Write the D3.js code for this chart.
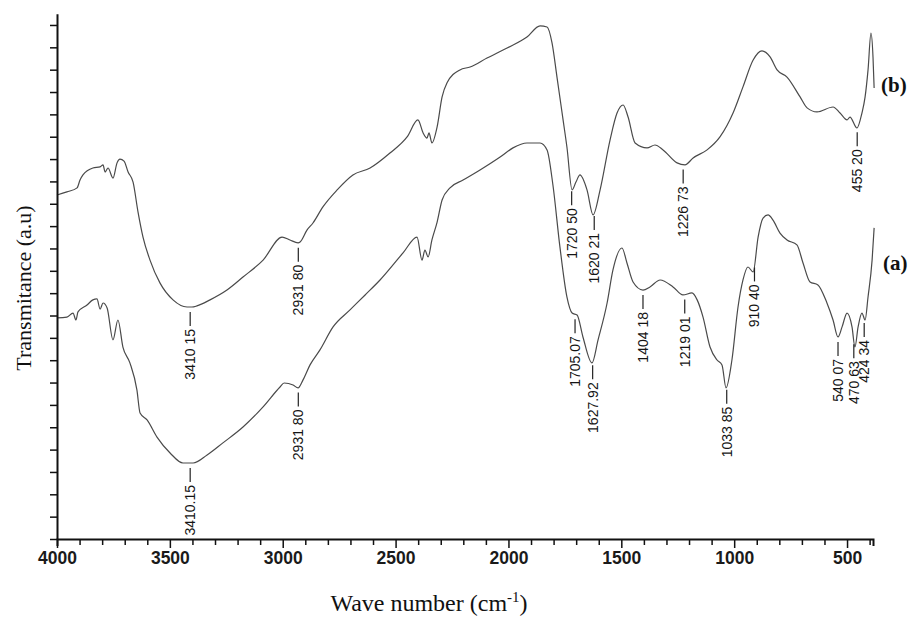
<!DOCTYPE html>
<html>
<head>
<meta charset="utf-8">
<script src="https://cdn.jsdelivr.net/npm/d3@7.9.0/dist/d3.min.js"></script>
<style>
  body { margin: 0; background: #fff; }
  svg { display: block; }
</style>
</head>
<body>
<div id="chart"></div>
<script>
// FTIR spectra: [wave number (cm-1), transmittance (a.u)]
const spectrumB = [
  [4000,15.39],[3956,15.53],[3911,15.71],[3898,16.06],[3885,16.29],[3841,16.60],[3809,16.65],
  [3796,16.74],[3787,16.42],[3774,16.60],[3752,16.15],[3734,16.83],[3721,17.00],[3703,16.91],
  [3685,16.42],[3663,15.97],[3641,14.63],[3619,13.51],[3588,12.48],[3544,11.46],[3486,10.70],
  [3424,10.38],[3402,10.38],[3380,10.43],[3322,10.70],[3247,11.14],[3176,11.72],[3087,12.48],
  [3003,13.51],[2968,13.38],[2932,13.25],[2923,13.29],[2892,13.83],[2866,14.14],[2822,14.86],
  [2759,15.62],[2689,16.29],[2613,16.60],[2525,17.27],[2449,17.99],[2401,18.75],[2378,18.17],
  [2361,17.94],[2352,18.17],[2339,17.72],[2316,18.44],[2294,19.78],[2272,20.41],[2215,20.99],
  [2170,21.12],[2095,21.52],[2006,21.97],[1918,22.46],[1860,22.96],[1829,22.91],[1807,22.20],
  [1785,20.67],[1758,18.75],[1741,17.54],[1718,15.62],[1701,15.97],[1683,16.29],[1652,15.62],
  [1625,14.50],[1594,15.62],[1550,17.85],[1519,19.06],[1492,19.42],[1470,18.88],[1439,17.72],
  [1386,17.50],[1351,17.63],[1315,17.41],[1253,16.83],[1218,16.74],[1182,17.05],[1120,17.41],
  [1063,17.99],[1005,19.06],[961,20.23],[916,21.43],[877,21.84],[841,21.57],[810,20.99],
  [766,20.67],[708,19.78],[677,19.29],[633,19.11],[562,19.33],[531,19.06],[500,18.75],
  [487,18.88],[456,18.39],[434,19.06],[420,19.78],[407,20.99],[394,22.64],[385,21.57],[380,20.18]
];

const spectrumA = [
  [4000,9.89],[3956,9.93],[3929,10.11],[3916,9.80],[3907,10.16],[3867,10.47],[3841,10.70],
  [3823,10.74],[3809,10.29],[3796,10.56],[3778,10.34],[3752,8.91],[3730,9.80],[3708,8.59],
  [3677,7.88],[3646,6.67],[3632,5.64],[3601,5.33],[3557,4.56],[3499,3.85],[3442,3.40],
  [3397,3.40],[3335,3.76],[3265,4.30],[3176,5.01],[3087,5.91],[3012,6.80],[2994,6.98],
  [2954,6.89],[2932,6.76],[2910,7.12],[2879,7.79],[2835,8.46],[2777,9.49],[2702,10.25],
  [2635,10.92],[2569,11.59],[2467,12.80],[2405,13.51],[2383,12.48],[2370,12.93],[2356,12.62],
  [2339,13.38],[2316,14.18],[2294,15.17],[2259,15.71],[2201,16.06],[2126,16.51],[2037,17.09],
  [1980,17.50],[1918,17.72],[1860,17.72],[1829,17.41],[1803,15.84],[1772,13.07],[1741,10.83],
  [1718,10.11],[1696,10.02],[1670,9.04],[1630,7.88],[1603,8.91],[1563,10.56],[1537,12.04],
  [1497,13.02],[1475,12.35],[1448,11.50],[1404,11.14],[1373,11.28],[1328,11.59],[1271,11.28],
  [1227,10.92],[1187,11.01],[1164,10.70],[1138,9.93],[1107,8.59],[1076,8.01],[1054,7.79],
  [1036,6.76],[1010,8.01],[983,10.38],[961,11.59],[939,12.17],[916,11.95],[894,13.51],
  [872,14.36],[850,14.50],[828,14.27],[797,13.69],[766,13.38],[722,13.16],[695,12.35],
  [664,11.50],[629,11.37],[589,10.56],[562,9.80],[540,9.04],[522,9.49],[500,10.11],
  [478,9.49],[465,8.59],[451,9.49],[434,10.11],[420,9.80],[407,10.83],[389,12.48],[380,13.92]
];

// peak annotations: [label text, wave number]
const peaksB = [
  ['3410 15', 3410], ['2931 80', 2931], ['1720 50', 1720],
  ['1620 21', 1620], ['1226 73', 1226], ['455 20', 455]
];
const peaksA = [
  ['3410.15', 3410], ['2931 80', 2931], ['1705.07', 1705], ['1627.92', 1627],
  ['1404 18', 1404], ['1219 01', 1219], ['1033 85', 1033], ['910 40', 910],
  ['540 07', 540], ['470 63', 470], ['424 34', 424]
];

const xMajorTicks = [4000, 3500, 3000, 2500, 2000, 1500, 1000, 500];
const xMinorTicks = d3.range(3900, 385, -100).filter(d => d % 500 !== 0);
const yTicks = d3.range(0, 24);

// linear interpolation of a spectrum at a given wave number
function valueAt(spectrum, wn) {
  for (let i = 0; i < spectrum.length - 1; i++) {
    const [x0, y0] = spectrum[i];
    const [x1, y1] = spectrum[i + 1];
    if (wn <= x0 && wn >= x1) {
      return y0 + (y1 - y0) * (x0 - wn) / (x0 - x1);
    }
  }
  return spectrum[spectrum.length - 1][1];
}

function renderChart() {
  const width = 912;
  const height = 617;

  const svg = d3.select('#chart')
    .append('svg')
    .attr('width', width)
    .attr('height', height);

  const xScale = d3.scaleLinear().domain([4000, 385]).range([57, 873]);
  const yScale = d3.scaleLinear().domain([0, 23.5]).range([539, 13.8]);

  // spectra
  const line = d3.line()
    .x(d => xScale(d[0]))
    .y(d => yScale(d[1]))
    .curve(d3.curveMonotoneX);

  svg.selectAll('path.spectrum')
    .data([spectrumB, spectrumA])
    .join('path')
    .attr('class', 'spectrum')
    .attr('d', line)
    .attr('fill', 'none')
    .attr('stroke', '#4a4a4a')
    .attr('stroke-width', 1.2)
    .attr('stroke-linejoin', 'round');

  // peak labels
  drawPeaks(svg, peaksB, spectrumB, xScale, yScale);
  drawPeaks(svg, peaksA, spectrumA, xScale, yScale);

  // x axis: minor ticks first, then the labelled one
  svg.append('g')
    .attr('transform', `translate(0, ${yScale(0)})`)
    .call(d3.axisBottom(xScale).tickValues(xMinorTicks).tickSize(6).tickSizeOuter(0).tickFormat(''))
    .call(g => g.select('.domain').remove())
    .call(g => g.selectAll('line').attr('stroke', '#111').attr('stroke-width', 1.5));

  svg.append('g')
    .attr('transform', `translate(0, ${yScale(0)})`)
    .call(d3.axisBottom(xScale).tickValues(xMajorTicks).tickSize(9).tickSizeOuter(7).tickPadding(4)
      .tickFormat(d3.format('d')))
    .call(g => g.select('.domain').attr('stroke', '#111').attr('stroke-width', 2))
    .call(g => g.selectAll('line').attr('stroke', '#111').attr('stroke-width', 1.5))
    .call(g => g.selectAll('text')
      .attr('fill', '#1a1a1a')
      .style('font-family', '"Liberation Sans", Arial, sans-serif')
      .style('font-weight', 'bold')
      .style('font-size', '17.5px'));

  // y axis without values
  svg.append('g')
    .attr('transform', `translate(${xScale(4000)}, 0)`)
    .call(d3.axisLeft(yScale).tickValues(yTicks).tickSize(7).tickSizeOuter(0).tickFormat(''))
    .call(g => g.select('.domain').attr('stroke', '#111').attr('stroke-width', 2))
    .call(g => g.selectAll('line').attr('stroke', '#111').attr('stroke-width', 1.5));

  // series names
  const serif = '"Liberation Serif", "Times New Roman", serif';
  svg.append('text')
    .attr('x', 881).attr('y', 92)
    .style('font-family', serif).style('font-weight', 'bold').style('font-size', '21px')
    .attr('fill', '#111')
    .text('(b)');
  svg.append('text')
    .attr('x', 883).attr('y', 270)
    .style('font-family', serif).style('font-weight', 'bold').style('font-size', '21px')
    .attr('fill', '#111')
    .text('(a)');

  // axis titles
  svg.append('text')
    .attr('transform', 'translate(31, 288) rotate(-90)')
    .attr('text-anchor', 'middle')
    .style('font-family', serif).style('font-size', '22px')
    .attr('fill', '#111')
    .text('Transmitance (a.u)');

  const xTitle = svg.append('text')
    .attr('x', 429).attr('y', 611)
    .attr('text-anchor', 'middle')
    .style('font-family', serif).style('font-size', '24px')
    .attr('fill', '#111');
  xTitle.append('tspan').text('Wave number (cm');
  xTitle.append('tspan').attr('dy', -9).style('font-size', '15px').text('-1');
  xTitle.append('tspan').attr('dy', 9).text(')');
}

function drawPeaks(svg, peaks, spectrum, xScale, yScale) {
  const g = svg.append('g').attr('class', 'peaks');
  peaks.forEach(([label, wn]) => {
    const x = xScale(wn);
    const y = yScale(valueAt(spectrum, wn)) + 5;
    g.append('line')
      .attr('x1', x).attr('x2', x)
      .attr('y1', y).attr('y2', y + 14)
      .attr('stroke', '#222')
      .attr('stroke-width', 1.2);
    g.append('text')
      .attr('transform', `translate(${x + 5}, ${y + 17}) rotate(-90)`)
      .attr('text-anchor', 'end')
      .attr('fill', '#151515')
      .style('font-family', '"Liberation Sans", Arial, sans-serif')
      .style('font-size', '14px')
      .text(label);
  });
}

renderChart();
</script>
</body>
</html>
